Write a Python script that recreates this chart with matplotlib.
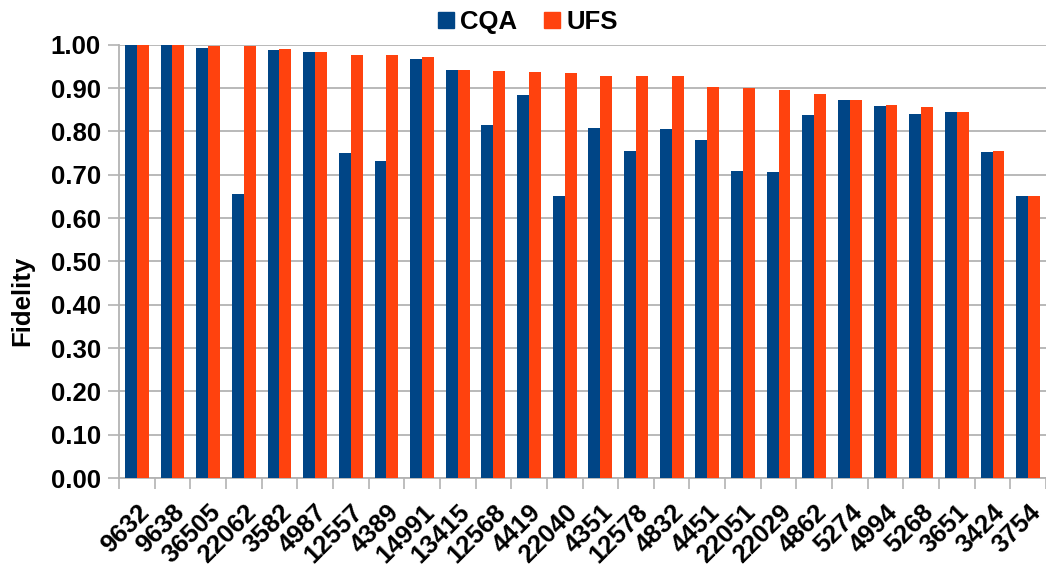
import matplotlib.pyplot as plt
import numpy as np
from matplotlib.lines import Line2D

plt.rcParams['font.family'] = ['Liberation Sans', 'DejaVu Sans']
plt.rcParams['font.weight'] = 'bold'

# circuit ids, sorted by UFS fidelity
circuits = ["9632", "9638", "36505", "22062", "3582", "4987", "12557", "4389",
            "14991", "13415", "12568", "4419", "22040", "4351", "12578", "4832",
            "4451", "22051", "22029", "4862", "5274", "4994", "5268", "3651",
            "3424", "3754"]
cqa = [1.000, 1.000, 0.993, 0.656, 0.988, 0.983, 0.750, 0.731,
       0.967, 0.942, 0.815, 0.884, 0.651, 0.808, 0.755, 0.805,
       0.780, 0.708, 0.706, 0.838, 0.873, 0.859, 0.840, 0.845,
       0.752, 0.651]
ufs = [1.000, 1.000, 0.998, 0.998, 0.990, 0.983, 0.977, 0.977,
       0.972, 0.942, 0.939, 0.937, 0.935, 0.928, 0.928, 0.928,
       0.902, 0.900, 0.895, 0.886, 0.873, 0.861, 0.856, 0.845,
       0.755, 0.651]
yticks = np.arange(0, 1.01, 0.1)

blue = "#004586"
orange = "#ff420e"
grid_col = "#b3b3b3"
fs = 18.5

fig = plt.figure(figsize=(10.46, 5.66), dpi=100)
ax = fig.add_axes([119 / 1046, 1 - 478 / 566, 1 - 119 / 1046, (478 - 44.7) / 566])

x = np.arange(len(circuits))
w = 1 / 3
ax.bar(x - w / 2, cqa, w, color=blue, zorder=3)
ax.bar(x + w / 2, ufs, w, color=orange, zorder=3)

ax.set_xlim(-0.5, -0.5 + 927 / 36)
ax.set_ylim(0, 1.0)
ax.set_yticks(yticks)
ax.set_yticklabels([f"{v:.2f}" for v in yticks], fontsize=fs, fontweight='bold')
ax.yaxis.grid(True, color=grid_col, linewidth=1.3, zorder=0)

# category boundaries get the tick marks, labels sit under the centres
ax.set_xticks(np.arange(-0.5, len(circuits), 1))
ax.set_xticklabels([])
ax.set_xticks(x, minor=True)
ax.set_xticklabels(circuits, minor=True, rotation=45, ha='right', va='top',
                   rotation_mode='anchor', fontsize=fs, fontweight='bold')
ax.tick_params(axis='x', which='minor', length=0, pad=16)
ax.tick_params(axis='x', which='major', length=8, color=grid_col, width=1.2)
ax.tick_params(axis='y', length=8, color=grid_col, width=1.2, pad=5)

for s in ['top', 'right']:
    ax.spines[s].set_visible(False)
for s in ['left', 'bottom']:
    ax.spines[s].set_color(grid_col)
    ax.spines[s].set_linewidth(1.3)

ax.set_ylabel("Fidelity", fontsize=fs, fontweight='bold')
ax.yaxis.set_label_coords(-0.0917, 0.408)

handles = [Line2D([], [], marker='s', linestyle='', markersize=11.5, color=blue),
           Line2D([], [], marker='s', linestyle='', markersize=11.5, color=orange)]
fig.legend(handles, ["CQA", "UFS"], loc='center', bbox_to_anchor=(0.503, 0.962),
           ncol=2, frameon=False, prop={'size': fs, 'weight': 'bold'},
           handletextpad=0.1, columnspacing=0.9, handlelength=0.9)

fig.savefig("out.png", dpi=100)
